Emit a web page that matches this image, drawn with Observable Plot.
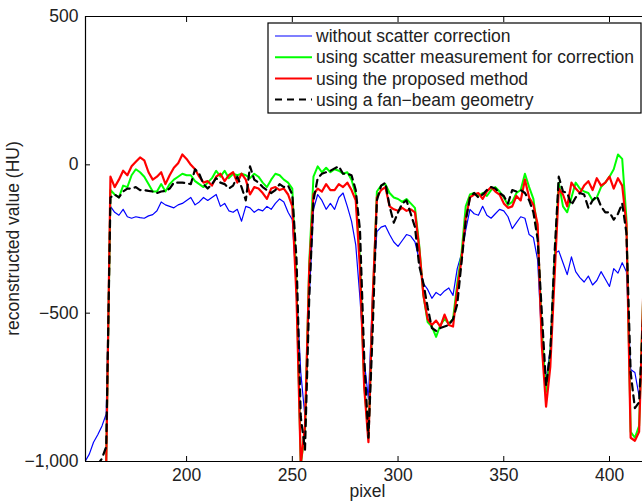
<!DOCTYPE html>
<html><head><meta charset="utf-8">
<script src="https://cdn.jsdelivr.net/npm/d3@7"></script>
<script src="https://cdn.jsdelivr.net/npm/@observablehq/plot@0.6"></script>
<style>body{margin:0;background:#fff}#chart{position:relative;width:642px;height:502px}</style>
</head><body><div id="chart"></div>
<script>
// sample positions (pixel index)
const pixel = [152,154,156,158,160,162,164,166,168,170,
172,174,176,178,180,182,184,186,188,190,
192,194,196,198,200,202,204,206,208,210,
212,214,216,218,220,222,224,226,228,230,
232,234,236,238,240,242,244,246,248,250,
252,254,256,258,260,262,264,266,268,270,
272,274,276,278,280,282,284,286,288,290,
292,294,296,298,300,302,304,306,308,310,
312,314,316,318,320,322,324,326,328,330,
332,334,336,338,340,342,344,346,348,350,
352,354,356,358,360,362,364,366,368,370,
372,374,376,378,380,382,384,386,388,390,
392,394,396,398,400,402,404,406,408,410,
412,414,416];

const withoutCorrection = [-1000,-975,-935,-910,-880,-840,-140,-160,-170,-150,
-175,-180,-175,-178,-180,-172,-168,-155,-125,-135,
-140,-145,-135,-130,-120,-110,-135,-125,-110,-120,
-110,-100,-140,-130,-155,-160,-150,-190,-140,-145,
-160,-150,-155,-140,-150,-130,-115,-125,-160,-185,
-420,-700,-850,-450,-150,-100,-120,-150,-130,-150,
-110,-95,-140,-190,-270,-450,-660,-790,-430,-225,
-210,-205,-235,-260,-275,-255,-235,-240,-260,-320,
-400,-420,-450,-430,-440,-425,-415,-440,-350,-300,
-220,-150,-165,-170,-140,-170,-180,-165,-150,-155,
-175,-215,-195,-175,-180,-235,-245,-320,-600,-730,
-620,-300,-290,-330,-370,-310,-360,-380,-395,-375,
-405,-390,-360,-385,-410,-350,-365,-330,-360,-690,
-700,-780,-660];

const scatterMeasurement = [-1010,-1010,-1005,-1010,-1005,-1000,-85,-100,-110,-70,
-75,-35,-15,-25,-40,-65,-90,-90,-65,-90,
-65,-50,-40,-30,-35,-35,-55,-65,-75,-60,
-45,-20,-40,-20,-45,-30,-35,-30,-35,-45,
-30,-40,-60,-75,-50,-30,-35,-50,-60,-80,
-400,-1010,-900,-330,-40,-5,-25,-10,-25,-15,
-20,-30,-25,-50,-100,-320,-740,-920,-470,-90,
-70,-65,-95,-110,-115,-125,-115,-130,-145,-270,
-440,-530,-545,-580,-540,-520,-535,-520,-400,-300,
-140,-100,-95,-105,-95,-105,-85,-75,-90,-110,
-135,-125,-95,-85,-30,-75,-115,-220,-560,-765,
-640,-330,-60,-140,-160,-110,-60,-80,-90,-95,
-120,-110,-75,-60,-40,-15,35,20,-180,-900,
-920,-880,-420];

const proposedMethod = [-1010,-1010,-1010,-1010,-1010,-1010,-40,-75,-50,-20,
-35,-5,10,25,15,-25,-50,-40,-25,-65,
-35,-10,5,35,20,0,-15,-40,-60,-55,
-70,-40,-30,-55,-35,-25,-60,-30,-50,-100,
-75,-80,-95,-115,-80,-75,-85,-80,-100,-140,
-450,-1010,-880,-350,-100,-80,-90,-65,-85,-85,
-65,-75,-60,-85,-120,-350,-750,-935,-450,-110,
-85,-75,-140,-150,-155,-145,-155,-150,-160,-280,
-440,-520,-540,-525,-545,-505,-540,-545,-420,-320,
-180,-110,-100,-95,-115,-90,-75,-90,-100,-130,
-145,-140,-105,-120,-50,-110,-135,-200,-610,-815,
-680,-380,-80,-100,-140,-60,-80,-95,-70,-55,
-85,-45,-70,-60,-40,-80,-45,-70,-200,-920,
-930,-900,-420];

const fanBeam = [-1010,-1010,-1010,-1010,-990,-950,-110,-100,-110,-90,
-80,-80,-75,-85,-85,-88,-90,-95,-90,-88,
-80,-60,-60,-60,-62,-65,-15,-30,-65,-80,
-65,-45,-60,-65,-80,-70,-40,-75,-120,-5,
-50,-60,-75,-85,-95,-85,-65,-75,-70,-100,
-320,-850,-960,-450,-120,-45,-30,-25,-20,-12,
-5,-30,-30,-35,-85,-220,-650,-920,-560,-120,
-70,-60,-140,-195,-160,-130,-120,-165,-210,-340,
-400,-480,-550,-560,-550,-545,-540,-520,-470,-330,
-190,-110,-95,-110,-100,-85,-75,-80,-95,-105,
-130,-85,-90,-85,-95,-120,-160,-250,-500,-745,
-630,-300,-40,-90,-95,-135,-110,-95,-100,-145,
-120,-105,-140,-160,-160,-185,-165,-130,-230,-700,
-820,-800,-500];

const seriesNames = ["without scatter correction",
  "using scatter measurement for correction",
  "using the proposed method",
  "using a fan\u2212beam geometry"];
const xTicks = [200, 250, 300, 350, 400];
const yTicks = [-1000, -500, 0, 500];
const xDomain = [152.2, 415.6];
const yDomain = [-1000, 500];
const xLabel = "pixel";
const yLabel = "reconstructed value (HU)";

const seriesValues = [withoutCorrection, scatterMeasurement, proposedMethod, fanBeam];
const styles = [
  {stroke: "#0000ff", strokeWidth: 1.2, dash: null},
  {stroke: "#00ff00", strokeWidth: 2, dash: null},
  {stroke: "#ff0000", strokeWidth: 2.2, dash: null},
  {stroke: "#000000", strokeWidth: 2.2, dash: "7,5"}
];

const FONT = "'Liberation Sans', Arial, Helvetica, sans-serif";
const FS = 17.5;
const lineMarks = seriesValues.map((vals, k) => Plot.line(
  pixel.map((p, i) => ({p, v: vals[i]})),
  {x: "p", y: "v", stroke: styles[k].stroke, strokeWidth: styles[k].strokeWidth,
   strokeDasharray: styles[k].dash, clip: true, strokeLinejoin: "round"}));

const W = 642, H = 502, ML = 85, MR = 0, MT = 16, MB = 41;
const svg = Plot.plot({
  width: W, height: H,
  marginLeft: ML, marginRight: MR, marginTop: MT, marginBottom: MB,
  x: {domain: xDomain},
  y: {domain: yDomain},
  style: {fontFamily: FONT, fontSize: FS + "px", color: "#222", background: "#fff", overflow: "visible"},
  marks: [
    ...lineMarks,
    Plot.ruleY(yDomain, {stroke: "#000", strokeWidth: 1.2}),
    Plot.ruleX([xDomain[0]], {stroke: "#000", strokeWidth: 1.2}),
    Plot.axisX({ticks: xTicks, tickSize: -5, tickPadding: 12, label: null, stroke: "#000", fill: "#222"}),
    Plot.axisX({anchor: "top", ticks: xTicks, tickSize: -5, tickFormat: () => "", label: null, stroke: "#000"}),
    Plot.axisY({ticks: yTicks, tickSize: -5, tickPadding: 12, label: null, stroke: "#000", fill: "#222"})
  ]
});
document.getElementById("chart").appendChild(svg);

const g = d3.select(svg).append("g").attr("font-family", FONT).attr("fill", "#222");
// axis titles
g.append("text").attr("x", (ML + W) / 2 + 4).attr("y", 497).attr("text-anchor", "middle")
  .attr("font-size", FS).text(xLabel);
g.append("text").attr("transform", `translate(19,${(MT + H - MB) / 2}) rotate(-90)`)
  .attr("text-anchor", "middle").attr("font-size", FS).text(yLabel);

// legend
const lg = g.append("g").attr("text-anchor", "start");
lg.append("rect").attr("x", 268).attr("y", 23).attr("width", 373).attr("height", 90)
  .attr("fill", "#fff").attr("stroke", "#000").attr("stroke-width", 1.2);
const rowY = [36, 57.3, 78.5, 99.5];
seriesNames.forEach((name, k) => {
  lg.append("line").attr("x1", 275).attr("x2", 312).attr("y1", rowY[k]).attr("y2", rowY[k])
    .attr("stroke", styles[k].stroke).attr("stroke-width", styles[k].strokeWidth)
    .attr("stroke-dasharray", styles[k].dash);
  lg.append("text").attr("x", 316).attr("y", rowY[k]).attr("dy", "0.35em")
    .attr("text-anchor", "start").attr("font-size", FS).attr("fill", "#222").text(name);
});
</script>
</body></html>
